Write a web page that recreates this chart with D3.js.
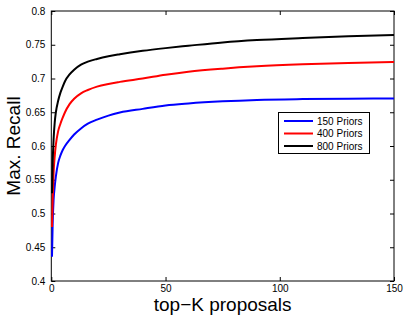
<!DOCTYPE html>
<html>
<head>
<meta charset="utf-8">
<script src="https://cdn.jsdelivr.net/npm/d3@7"></script>
<style>
  body { margin: 0; background: #fff; }
  text { font-family: "Liberation Sans", Arial, sans-serif; fill: #000; }
</style>
</head>
<body>
<div id="chart"></div>
<script>
// top-K values where the curves were read
const topK = [0.3, 0.6, 1, 1.5, 2, 3, 4, 5, 6, 8, 10, 13, 16, 20, 25, 30, 40, 50, 60, 75, 90, 110, 130, 150]
const recall150 = [0.436, 0.485, 0.52, 0.54, 0.555, 0.575, 0.586, 0.594, 0.600, 0.609, 0.617, 0.626, 0.633, 0.639, 0.645, 0.6495, 0.655, 0.660, 0.663, 0.6662, 0.6683, 0.6695, 0.670, 0.6705]
const recall400 = [0.48, 0.52, 0.56, 0.585, 0.602, 0.622, 0.633, 0.642, 0.650, 0.662, 0.670, 0.678, 0.683, 0.688, 0.692, 0.695, 0.700, 0.7055, 0.710, 0.7146, 0.718, 0.721, 0.723, 0.7245]
const recall800 = [0.53, 0.575, 0.61, 0.635, 0.65, 0.667, 0.679, 0.688, 0.696, 0.706, 0.713, 0.7205, 0.725, 0.729, 0.733, 0.736, 0.741, 0.745, 0.7485, 0.7535, 0.757, 0.760, 0.7625, 0.7645]
const seriesNames = ['150 Priors', '400 Priors', '800 Priors']
const seriesColors = ['#0000ff', '#ff0000', '#000000']
const xTicks = [0, 50, 100, 150]
const yTicks = [0.4, 0.45, 0.5, 0.55, 0.6, 0.65, 0.7, 0.75, 0.8]

var fullWidth = 407;
var fullHeight = 317;
var margin = {top: 11, right: 13, bottom: 36, left: 51.3};
var width = fullWidth - margin.left - margin.right;
var height = fullHeight - margin.top - margin.bottom;

var x = d3.scaleLinear().domain([0, 150]).range([0, width]);
var y = d3.scaleLinear().domain([0.4, 0.8]).range([height, 0]);

var svg = d3.select('#chart').append('svg')
    .attr('width', fullWidth)
    .attr('height', fullHeight)
  .append('g')
    .attr('transform', 'translate(' + margin.left + ',' + margin.top + ')');

function styleAxis(g, hideText) {
  g.select('.domain').remove();
  g.selectAll('.tick line').attr('stroke', '#000');
  g.selectAll('.tick text').style('font-size', '10px').attr('fill', '#000');
  if (hideText) g.selectAll('.tick text').remove();
}

// MATLAB style: ticks point inward on all four sides
svg.append('g')
  .attr('transform', 'translate(0,' + height + ')')
  .call(d3.axisBottom(x).tickValues(xTicks).tickSizeInner(-4).tickPadding(3.5).tickFormat(d3.format('d')))
  .call(styleAxis);
svg.append('g')
  .call(d3.axisTop(x).tickValues(xTicks).tickSizeInner(-4))
  .call(styleAxis, true);
svg.append('g')
  .call(d3.axisLeft(y).tickValues(yTicks).tickSizeInner(-4).tickPadding(6).tickFormat(d3.format('')))
  .call(styleAxis);
svg.append('g')
  .attr('transform', 'translate(' + width + ',0)')
  .call(d3.axisRight(y).tickValues(yTicks).tickSizeInner(-4))
  .call(styleAxis, true);

svg.append('rect')
  .attr('width', width)
  .attr('height', height)
  .attr('fill', 'none')
  .attr('stroke', '#000')
  .attr('stroke-width', 1);

var line = d3.line()
  .x(function(d) { return x(d[0]); })
  .y(function(d) { return y(d[1]); })
  .curve(d3.curveMonotoneX);

[recall150, recall400, recall800].forEach(function(values, i) {
  svg.append('path')
    .datum(topK.map(function(k, j) { return [k, values[j]]; }))
    .attr('fill', 'none')
    .attr('stroke', seriesColors[i])
    .attr('stroke-width', 2)
    .attr('d', line);
});

// axis labels
svg.append('text')
  .attr('text-anchor', 'middle')
  .attr('x', width / 2)
  .attr('y', height + 30)
  .style('font-size', '19px')
  .text('top\u2212K proposals');

svg.append('text')
  .attr('text-anchor', 'middle')
  .attr('transform', 'rotate(-90)')
  .attr('x', -(height / 2))
  .attr('y', -31.5)
  .style('font-size', '19px')
  .text('Max. Recall');

// legend
var legend = d3.select('svg').append('g')
  .attr('transform', 'translate(278,112)');
legend.append('rect')
  .attr('x', 0.5).attr('y', 0.5)
  .attr('width', 91).attr('height', 41)
  .attr('fill', '#fff')
  .attr('stroke', '#000');
seriesNames.forEach(function(name, i) {
  var row = legend.append('g').attr('transform', 'translate(0,' + (9 + i * 12.5) + ')');
  row.append('line')
    .attr('x1', 6).attr('x2', 35)
    .attr('stroke', seriesColors[i])
    .attr('stroke-width', 2);
  row.append('text')
    .attr('x', 39)
    .attr('dy', '0.35em')
    .style('font-size', '10px')
    .text(name);
});
</script>
</body>
</html>
